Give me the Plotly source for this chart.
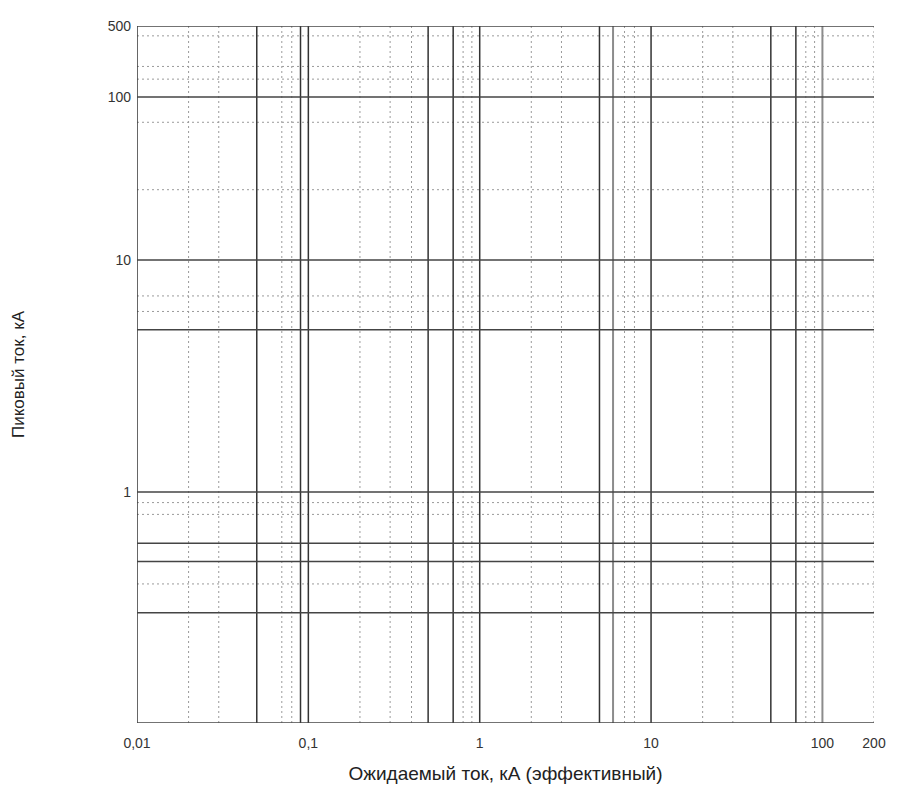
"""
Log-log grid: peak current vs prospective current (empty nomogram grid)
"""

import numpy as np
import plotly.graph_objects as go


# x axis: prospective current, kA (log)
x_tick_vals = [0.01, 0.1, 1, 10, 100, 200]
x_tick_text = ["0,01", "0,1", "1", "10", "100", "200"]

# vertical grid lines, grouped by how they are drawn in the scan
x_solid = [0.01, 0.05, 0.09, 0.1, 0.5, 0.7, 1, 5, 10, 50, 70]
x_gray = [6, 100]
x_dotted = [0.02, 0.03, 0.07, 0.08, 0.2, 0.3, 0.4, 0.8, 0.9,
            2, 3, 7, 8, 20, 30, 80, 90, 200]

# y axis: peak current, kA
y_tick_vals = [1, 10, 100, 500]
y_tick_text = ["1", "10", "100", "500"]

# horizontal grid lines
y_solid = [0.1, 0.3, 0.5, 0.6, 1, 5, 10, 100, 500]
y_dotted = [0.4, 0.8, 0.9, 6, 7, 27, 70, 150, 200, 400]

# the printed y scale is not one uniform log scale: every decade has its own
# length, so map values through the decade anchors of the printed chart
y_anchor_vals = [0.1, 1, 10, 100, 500]
y_anchor_frac = [0.0, 0.3314, 0.6643, 0.8981, 1.0]


def warp(v):
    return np.interp(np.log10(v), np.log10(y_anchor_vals), y_anchor_frac)


def vlines(values):
    xs, ys = [], []
    for v in values:
        xs += [v, v, None]
        ys += [0, 1, None]
    return xs, ys


def hlines(values):
    xs, ys = [], []
    for v in values:
        y = float(warp(v))
        xs += [x_tick_vals[0], x_tick_vals[-1], None]
        ys += [y, y, None]
    return xs, ys


fig = go.Figure()

# dotted lines first, solid lines on top
for func, vals, color, width, dash in [
    (vlines, x_dotted, "#9a9a9a", 1, "2px,3px"),
    (hlines, y_dotted, "#9a9a9a", 1, "2px,3px"),
    (vlines, x_gray, "#8c8c8c", 2, "solid"),
    (vlines, x_solid, "#333333", 1.5, "solid"),
    (hlines, y_solid, "#444444", 1.5, "solid"),
]:
    xs, ys = func(vals)
    fig.add_trace(go.Scatter(
        x=xs, y=ys, mode="lines", hoverinfo="skip", showlegend=False,
        line=dict(color=color, width=width, dash=dash),
    ))

# page body has an 8px margin, so the figure is a bit smaller than the window
fig.update_layout(
    width=891, height=781,
    margin=dict(l=129, r=25, t=18, b=66),
    paper_bgcolor="white", plot_bgcolor="white",
    font=dict(family="Liberation Sans, Arial, sans-serif", color="#222"),
    showlegend=False,
)

fig.update_xaxes(
    type="log",
    range=[np.log10(x_tick_vals[0]), np.log10(x_tick_vals[-1])],
    tickvals=x_tick_vals, ticktext=x_tick_text,
    tickfont=dict(size=14, color="#333"),
    ticks="", ticklabelstandoff=10,
    showgrid=False, zeroline=False, showline=False, automargin=False,
    title=dict(text="Ожидаемый ток, кА (эффективный)",
               font=dict(size=19, color="#222"), standoff=16),
)

fig.update_yaxes(
    range=[0, 1],
    tickvals=[float(warp(v)) for v in y_tick_vals], ticktext=y_tick_text,
    tickfont=dict(size=14, color="#333"),
    ticks="", ticklabelstandoff=5,
    showgrid=False, zeroline=False, showline=False, automargin=False,
    title=dict(text="Пиковый ток, кА",
               font=dict(size=17, color="#222"), standoff=78),
)

fig.write_html("out.html")
